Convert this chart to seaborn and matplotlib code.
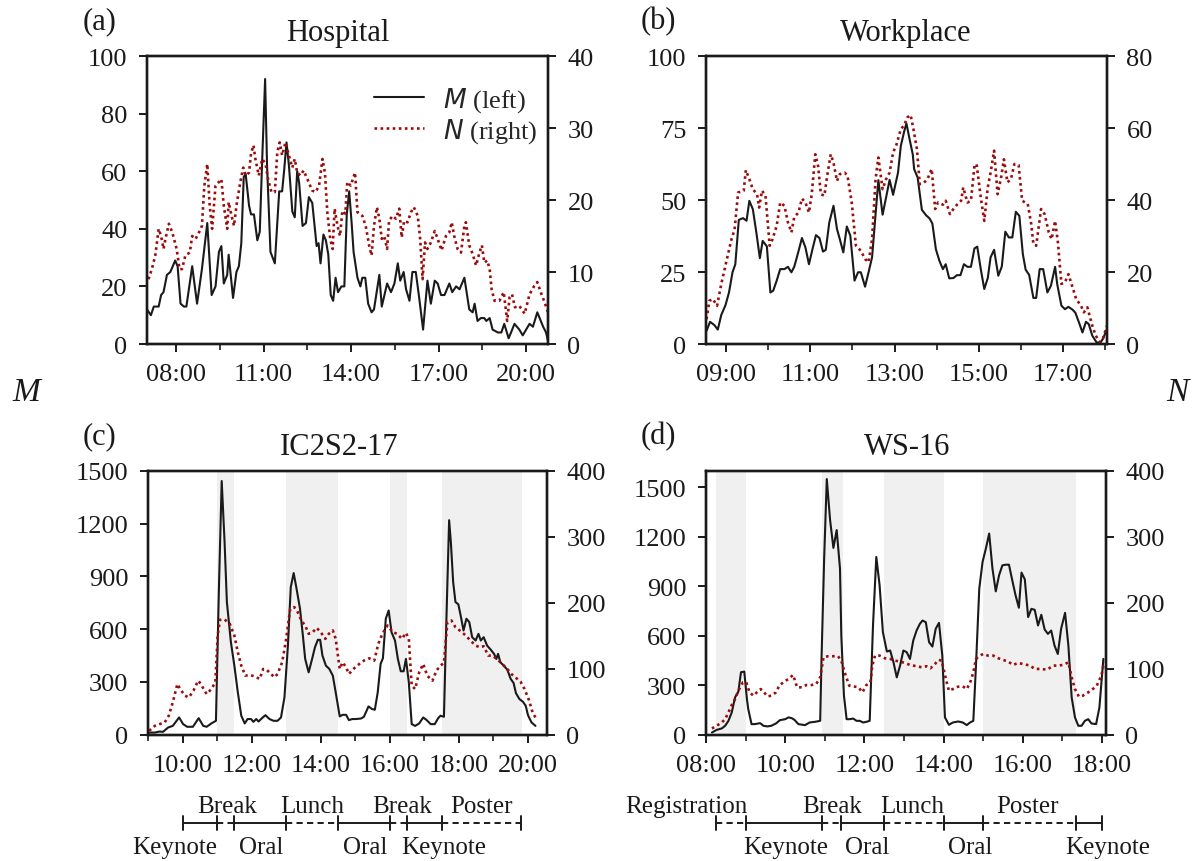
import numpy as np
import pandas as pd
import matplotlib
matplotlib.use("Agg")
import matplotlib.pyplot as plt
from matplotlib.ticker import FixedLocator, FuncFormatter
from matplotlib.lines import Line2D
import seaborn as sns

# ---------------- data (times in minutes after midnight) ----------------
# (a) Hospital
A_M_T = [420,428,434,444,449,454,461,468,478,483,489,496,501,513,523,533,544,553,561,568,
         573,578,585,588,597,604,609,614,619,623,630,634,640,647,652,657,663,667,674,683,
         692,698,702,707,712,719,724,729,733,740,747,753,760,769,773,777,783,788,793,798,
         803,808,813,820,826,831,836,841,845,853,859,863,869,875,882,887,898,903,914,922,
         929,936,941,948,953,960,966,973,980,988,997,1004,1012,1018,1025,1032,1042,1048,1056,1063,
         1073,1083,1090,1094,1100,1107,1114,1118,1125,1131,1142,1149,1155,1164,1169,1176,1186,1193,1207,1214,
         1223,1235,1241,1245]
A_M_V = [12,10,13,13,17,18,24,25,29,27,14,13,13,27,14,26,42,17,20,32,
         34,21,24,31,16,25,27,35,58,59,48,45,45,36,39,64,92,62,32,28,
         53,53,60,70,62,46,44,60,56,41,42,51,49,34,35,28,38,36,31,17,
         15,23,18,20,20,45,53,42,32,23,20,23,23,14,11,12,24,13,21,18,
         21,28,22,25,19,15,25,25,16,5,22,14,22,21,17,17,21,18,20,19,
         23,12,11,14,8,9,9,8,9,5,4,4,7,2,4,7,5,3,7,6,
         11,6,4,1]
A_N_T = [423,430,437,444,449,454,458,465,472,481,487,492,499,508,513,520,527,533,538,544,
         549,554,561,568,573,578,585,588,594,599,604,612,618,623,630,634,639,643,650,657,
         664,669,676,683,688,693,698,705,712,719,724,729,736,742,750,760,767,774,781,786,
         791,797,802,806,812,817,822,828,832,839,848,853,863,870,877,882,887,893,898,903,
         908,914,918,925,932,939,944,949,956,963,969,977,982,987,992,997,1004,1012,1018,1026,
         1035,1042,1047,1052,1059,1066,1073,1076,1083,1090,1097,1104,1109,1114,1120,1125,1129,1135,1145,1154,
         1161,1166,1171,1177,1186,1197,1207,1217,1223,1230,1238,1245]
A_N_V = [9.0,10.4,12.3,16.0,15.0,13.2,14.6,16.7,15.5,13.2,10.4,10.4,12.3,12.7,15.0,14.6,15.5,16.4,22.0,25.0,
         19.2,16.0,22.0,22.5,22.9,19.2,16.0,19.7,17.8,16.4,19.2,22.5,24.5,23.4,23.8,26.4,27.6,25.7,23.4,25.7,
         25.0,22.9,21.1,21.1,26.6,28.0,26.2,28.0,26.2,24.5,25.7,23.8,23.4,24.1,22.9,21.3,21.1,22.0,25.7,23.8,
         18.3,14.6,13.2,18.8,16.4,15.0,18.5,18.1,22.5,22.0,23.8,18.3,17.8,16.4,13.7,12.3,16.4,19.0,17.4,14.6,
         15.0,13.2,17.1,17.8,17.4,18.8,14.8,17.1,16.9,18.3,19.0,17.8,14.6,9.0,14.1,13.2,14.1,15.7,14.6,13.0,
         15.0,15.5,16.9,15.0,13.2,12.7,16.4,16.9,13.7,12.5,10.9,12.7,13.7,11.3,11.6,10.4,7.6,6.0,6.0,7.2,
         3.2,6.5,6.9,5.1,5.3,4.2,6.9,8.1,8.6,7.2,5.8,4.4]

# (b) Workplace
B_M_T = [512,517,523,528,533,539,544,549,553,558,564,569,573,578,583,588,592,598,603,607,
         612,617,623,628,633,637,642,648,653,658,663,668,673,678,682,687,693,698,702,707,
         712,717,723,728,732,738,743,748,753,757,763,768,773,778,785,789,794,797,801,806,
         808,813,819,825,830,834,839,844,849,853,858,864,869,874,879,884,889,894,898,903,
         908,913,917,922,928,933,938,943,948,953,958,963,967,972,978,982,987,992,998,1003,
         1009,1012,1018,1023,1028,1034,1038,1043,1048,1053,1057,1062,1068,1073,1077,1083]
B_M_V = [4.6,7.7,6.6,5.0,10.1,13.5,17.9,24.9,27.7,43.1,43.7,42.8,49.7,46.8,38.7,29.8,35.8,33.9,17.9,18.5,
         22.0,26.0,26.0,26.8,24.9,26.8,31.2,36.8,33.5,27.7,32.9,37.8,36.8,32.1,32.7,42.2,48.0,39.9,36.4,31.8,
         40.8,37.6,22.0,24.9,24.9,19.9,24.9,30.1,45.1,56.9,44.9,50.9,57.0,51.8,59.5,68.8,74.0,76.6,71.7,65.9,
         60.7,57.8,46.6,44.7,43.6,41.8,32.9,28.9,26.0,27.7,22.8,22.9,23.9,23.9,27.7,26.8,26.8,33.2,33.8,26.0,
         19.1,22.9,30.1,32.7,23.7,26.9,39.0,37.0,37.0,45.9,44.5,31.2,25.8,24.0,16.0,16.0,26.0,26.0,17.9,20.2,
         26.8,20.8,13.3,12.1,12.9,11.9,10.8,7.5,4.0,7.7,6.9,2.9,0.6,0.3,1.7,5.2]
B_N_T = [512,516,521,527,533,540,547,552,557,561,565,568,573,578,584,587,591,596,602,606,
         612,617,623,628,633,637,643,648,653,658,662,667,671,675,680,684,689,693,698,702,
         709,713,719,725,732,738,743,748,753,757,763,768,773,778,783,789,794,798,803,807,
         812,816,822,827,833,838,842,849,853,859,864,870,875,878,884,889,894,897,903,908,
         913,917,922,927,932,936,941,946,951,957,962,970,975,978,982,989,994,1000,1004,1009,
         1013,1018,1023,1028,1034,1039,1046,1050,1055,1062,1067,1073,1077,1083]
B_N_V = [6.9,12.0,12.5,10.6,16.7,22.7,28.7,31.9,42.1,42.3,42.6,48.3,45.8,43.0,41.6,37.9,42.6,41.2,27.3,29.1,
         32.8,39.3,38.4,33.8,31.0,35.2,36.5,40.4,39.3,36.5,41.6,52.7,49.5,41.6,41.2,46.7,52.7,50.4,45.3,47.2,
         47.6,46.7,39.3,27.3,25.9,23.6,22.7,29.1,45.8,51.8,43.0,45.8,47.6,53.2,55.5,59.7,60.8,62.9,63.6,59.7,
         54.1,44.4,44.8,45.8,48.6,37.5,39.3,38.7,39.8,36.1,37.5,38.9,39.8,43.5,39.3,39.8,49.5,50.0,40.7,34.2,
         43.5,47.6,53.7,41.6,46.3,51.3,44.9,45.8,50.0,49.7,39.8,38.9,33.3,27.8,27.3,37.5,36.1,31.0,29.1,34.2,
         28.2,16.7,17.1,19.4,15.7,12.5,10.6,8.8,10.2,5.1,2.3,0.5,1.4,5.1]

# (c) IC2S2-17
C_M_T = [540,552,560,566,575,583,594,601,608,618,628,636,642,650,658,663,668,673,677,684,
         690,696,702,708,713,719,723,728,732,738,744,751,758,765,771,777,783,788,793,798,
         804,809,813,819,825,830,835,839,843,849,855,861,866,873,878,884,889,895,901,910,
         915,923,929,934,939,944,948,953,958,963,969,974,979,984,988,993,998,1004,1011,1018,
         1024,1031,1038,1044,1048,1054,1058,1063,1066,1070,1074,1079,1083,1088,1093,1098,1103,1109,1114,1118,
         1123,1129,1135,1141,1145,1148,1152,1158,1164,1170,1175,1179,1185,1191,1196,1200,1206,1213]
C_M_V = [11,11,17,15,40,49,97,59,44,44,93,49,44,63,78,811,1443,1096,754,525,
         392,240,107,63,88,88,72,88,74,93,110,88,78,78,97,211,506,839,919,830,
         716,563,430,354,430,497,539,539,449,392,373,335,240,103,112,112,82,88,88,91,
         101,160,145,141,240,402,434,659,706,582,535,430,360,360,430,297,59,49,63,97,
         82,59,59,93,107,101,621,1220,1096,868,754,741,678,592,659,640,554,535,573,535,
         554,506,484,459,430,459,411,392,369,316,293,236,202,187,164,110,69,49]
C_N_T = [542,552,560,569,576,583,591,596,604,611,619,627,632,638,642,650,657,661,665,673,
         682,690,696,702,709,716,725,734,740,746,752,760,765,773,780,787,794,800,807,813,
         819,826,833,840,848,854,861,866,873,878,884,889,898,907,915,924,933,940,947,956,
         965,973,981,988,993,998,1004,1011,1018,1025,1034,1041,1048,1054,1060,1067,1074,1083,1092,1100,
         1109,1116,1123,1131,1138,1146,1155,1164,1171,1178,1187,1194,1201,1208,1213]
C_N_V = [5.6,13.2,15.7,18.3,28.4,48.7,76.6,69.0,58.9,56.3,66.5,81.7,76.6,66.5,61.4,69.0,79.2,150.2,174.1,174.6,
         168.0,150.2,124.9,104.6,89.3,90.4,88.3,84.3,99.5,98.5,92.9,86.8,91.9,109.6,145.2,190.9,193.4,185.8,172.1,165.5,
         152.8,155.3,161.9,155.3,145.2,152.8,157.9,145.2,99.5,109.6,102.0,91.9,100.5,107.1,112.2,115.7,112.2,137.6,152.8,165.5,
         155.3,152.8,145.2,154.3,145.2,74.1,69.0,94.4,107.1,89.3,81.7,97.0,104.6,108.6,170.6,173.1,162.9,156.8,150.2,142.6,
         135.0,132.5,134.0,119.8,119.8,114.7,107.1,99.5,91.9,86.8,80.2,69.0,53.8,33.5,25.9]

# (d) WS-16
D_M_T = [489,496,504,509,514,519,524,529,533,538,542,544,549,554,562,567,573,579,586,592,
         600,605,610,614,620,630,637,645,653,655,659,663,668,673,678,683,685,689,693,698,
         703,708,713,718,723,728,733,738,743,748,754,759,764,769,774,779,784,789,794,799,
         804,808,813,818,823,828,833,838,842,848,854,862,869,875,880,885,889,894,899,904,
         909,914,919,924,929,934,939,944,949,954,958,963,968,973,978,983,988,993,998,1003,
         1008,1013,1018,1024,1029,1034,1039,1044,1049,1054,1059,1064,1071,1076,1082]
D_M_V = [12,28,37,53,83,134,225,260,378,382,215,154,63,63,69,53,49,53,67,87,
         93,104,99,89,63,57,73,77,83,459,1068,1551,1302,1133,1241,1007,601,236,93,93,
         97,83,83,73,77,83,662,1078,906,621,504,510,439,347,418,510,500,459,571,631,
         672,692,682,560,534,642,678,479,104,59,73,79,73,57,73,83,418,885,1048,1129,
         1220,1007,869,967,1027,1031,1031,936,845,770,983,942,713,763,757,662,727,638,611,631,
         540,489,642,739,540,225,104,53,53,83,93,67,63,164,459]
D_N_T = [489,496,504,509,514,519,524,529,536,541,546,552,557,563,568,573,579,586,591,597,
         605,612,618,625,632,640,647,653,658,665,673,680,685,690,697,703,711,717,723,729,
         732,736,743,751,759,766,774,781,789,799,807,814,820,827,832,837,840,844,848,854,
         862,869,875,880,885,889,895,900,907,915,923,930,938,945,953,960,971,978,986,997,
         1006,1013,1021,1029,1034,1039,1045,1051,1059,1066,1072,1079,1083]
D_N_V = [9.1,13.2,18.3,23.4,33.5,44.7,53.8,66.5,79.2,79.2,64.0,58.9,64.0,69.0,64.0,57.9,58.9,64.0,74.1,79.2,
         84.3,90.4,71.6,71.6,75.1,75.1,76.6,86.8,117.3,118.8,118.8,118.8,112.2,94.4,74.1,73.1,71.6,64.0,75.1,79.2,
         104.6,119.8,119.8,115.7,114.7,112.2,110.7,108.6,105.6,103.6,102.0,103.6,100.5,107.1,113.2,112.2,99.5,81.7,66.5,69.0,
         72.6,73.1,69.0,78.2,94.4,114.7,119.8,122.3,119.8,119.8,115.7,113.2,110.7,105.6,108.6,107.1,104.6,99.5,99.5,98.5,
         104.6,104.6,105.6,109.6,86.8,69.0,57.4,58.9,64.0,69.0,74.1,89.3,109.6]

# shaded (non-session) periods, minutes
C_SPANS = [(660, 690), (780, 870), (960, 990), (1050, 1190)]
D_SPANS = [(495, 540), (656, 688), (750, 840), (900, 1040)]

# schedule timelines
C_BOUNDS = [600, 660, 690, 780, 870, 960, 990, 1050, 1187]
C_DASHED = [False, True, False, True, False, True, False, True]
C_TOP = ["Break", "Lunch", "Break", "Poster"]
C_TOP_AT = [678, 826, 981, 1120]
C_BOT = ["Keynote", "Oral", "Oral", "Keynote"]
C_BOT_AT = [586, 736, 917, 1054]

D_BOUNDS = [495, 540, 655, 685, 750, 840, 900, 1040, 1080]
D_DASHED = [True, False, True, False, True, False, True, False]
D_TOP = ["Registration", "Break", "Lunch", "Poster"]
D_TOP_AT = [450, 671, 792, 967]
D_BOT = ["Keynote", "Oral", "Oral", "Keynote"]
D_BOT_AT = [601, 724, 880, 1089]

TITLES = ["Hospital", "Workplace", "IC2S2-17", "WS-16"]
LABELS = ["(a)", "(b)", "(c)", "(d)"]

# ---------------- style ----------------
sns.set_theme(style="ticks")
plt.rcParams['font.family'] = ['Liberation Serif', 'DejaVu Serif']
plt.rcParams['mathtext.fontset'] = 'dejavusans'
plt.rcParams['axes.linewidth'] = 1.7
plt.rcParams['axes.edgecolor'] = '#1a1a1a'

BLACK = '#1a1a1a'
RED = '#9b0d0d'
SHADE = '#f0f0f0'
TICKFS = 19

fig = plt.figure(figsize=(11.95, 8.62), dpi=100)
W, H = 1195.0, 862.0


def rect(l, t, r, b):
    return [l / W, 1 - b / H, (r - l) / W, (b - t) / H]


def hhmm(v, pos=None):
    m = int(round(v * 60))
    return f"{m // 60:02d}:{m % 60:02d}"


def panel(rc, mt, mv, nt, nv, xlim, ylm, yln, ytm, ytn, xmaj, xmin, spans=()):
    ax = fig.add_axes(rc)
    ax2 = ax.twinx()
    for s, e in spans:
        ax.axvspan(s / 60, e / 60, color=SHADE, lw=0, zorder=0)
    dm = pd.DataFrame({'t': np.array(mt) / 60.0, 'v': mv})
    dn = pd.DataFrame({'t': np.array(nt) / 60.0, 'v': nv})
    sns.lineplot(data=dm, x='t', y='v', ax=ax, color=BLACK, lw=1.5,
                 errorbar=None, sort=False, zorder=3)
    sns.lineplot(data=dn, x='t', y='v', ax=ax2, color=RED, lw=1.9,
                 linestyle=(0, (1, 1.3)), errorbar=None, sort=False, zorder=2)
    ax.set_xlim(*xlim)
    ax.set_ylim(*ylm)
    ax2.set_ylim(*yln)
    ax.set_yticks(ytm)
    ax2.set_yticks(ytn)
    ax.xaxis.set_major_locator(FixedLocator(xmaj))
    ax.xaxis.set_minor_locator(FixedLocator(xmin))
    ax.xaxis.set_major_formatter(FuncFormatter(hhmm))
    for a in (ax, ax2):
        a.set_xlabel('')
        a.set_ylabel('')
        a.tick_params(which='major', direction='out', length=6, width=1.4,
                      labelsize=TICKFS, pad=8, color=BLACK, labelcolor=BLACK)
        a.tick_params(which='minor', direction='out', length=4, width=1.2, color=BLACK)
        for sp in a.spines.values():
            sp.set_linewidth(1.7)
            sp.set_visible(True)
    ax2.tick_params(axis='y', which='minor', length=0)
    ax.tick_params(axis='y', which='minor', length=0)
    return ax, ax2


axA, axA2 = panel(rect(147, 57, 548, 345), A_M_T, A_M_V, A_N_T, A_N_V,
                  (7.0, 20.75), (0, 100), (0, 40),
                  [0, 20, 40, 60, 80, 100], [0, 10, 20, 30, 40],
                  [8, 11, 14, 17, 20], [9.5, 12.5, 15.5, 18.5])
axB, axB2 = panel(rect(706, 57, 1107, 345), B_M_T, B_M_V, B_N_T, B_N_V,
                  (8.52, 18.05), (0, 100), (0, 80),
                  [0, 25, 50, 75, 100], [0, 20, 40, 60, 80],
                  [9, 11, 13, 15, 17], [10, 12, 14, 16, 18])
axC, axC2 = panel(rect(148, 472, 547, 735.5), C_M_T, C_M_V, C_N_T, C_N_V,
                  (9.0, 20.55), (0, 1500), (0, 400),
                  [0, 300, 600, 900, 1200, 1500], [0, 100, 200, 300, 400],
                  [10, 12, 14, 16, 18, 20], [9, 11, 13, 15, 17, 19], C_SPANS)
axD, axD2 = panel(rect(706, 472, 1106, 735.5), D_M_T, D_M_V, D_N_T, D_N_V,
                  (8.0, 18.1), (0, 1600), (0, 400),
                  [0, 300, 600, 900, 1200, 1500], [0, 100, 200, 300, 400],
                  [8, 10, 12, 14, 16, 18], [9, 11, 13, 15, 17], D_SPANS)

# legend in (a)
handles = [Line2D([], [], color=BLACK, lw=1.5),
           Line2D([], [], color=RED, lw=1.9, linestyle=(0, (1, 1.3)))]
axA2.legend(handles, [r'$M$ (left)', r'$N$ (right)'], loc='upper left',
            bbox_to_anchor=(0.565, 0.90), frameon=False, fontsize=19,
            handlelength=1.9, handletextpad=0.75, labelspacing=0.1,
            borderpad=0, borderaxespad=0)


def timeline(ax, bounds, dashed, top, top_at, bot, bot_at):
    tr = ax.get_xaxis_transform()
    yl = -0.336
    for i in range(len(bounds) - 1):
        ax.plot([bounds[i] / 60, bounds[i + 1] / 60], [yl, yl], transform=tr,
                color=BLACK, lw=1.4, ls=(0, (3.2, 2.2)) if dashed[i] else '-',
                clip_on=False, solid_capstyle='butt')
    for b in bounds:
        ax.plot([b / 60, b / 60], [yl - 0.026, yl + 0.026], transform=tr,
                color=BLACK, lw=1.4, clip_on=False)
    for s, x in zip(top, top_at):
        ax.text(x / 60, -0.295, s, transform=tr, ha='center', va='baseline',
                fontsize=18, color=BLACK)
    for s, x in zip(bot, bot_at):
        ax.text(x / 60, -0.45, s, transform=tr, ha='center', va='baseline',
                fontsize=18, color=BLACK)


timeline(axC, C_BOUNDS, C_DASHED, C_TOP, C_TOP_AT, C_BOT, C_BOT_AT)
timeline(axD, D_BOUNDS, D_DASHED, D_TOP, D_TOP_AT, D_BOT, D_BOT_AT)

# titles and panel labels
for s, (x, y) in zip(TITLES, [(338, 41), (906, 41), (339, 455), (907, 455)]):
    fig.text(x / W, 1 - y / H, s, ha='center', va='baseline', fontsize=22, color=BLACK)
for s, (x, y) in zip(LABELS, [(100, 22), (658, 22), (100, 437), (658, 437)]):
    fig.text(x / W, 1 - y / H, s, ha='center', va='center', fontsize=22, color=BLACK)

fig.text(26 / W, 1 - 393 / H, 'M', ha='center', va='center', fontsize=24,
         style='italic', color=BLACK)
fig.text(1177 / W, 1 - 393 / H, 'N', ha='center', va='center', fontsize=24,
         style='italic', color=BLACK)

fig.savefig('out.png', dpi=100)
